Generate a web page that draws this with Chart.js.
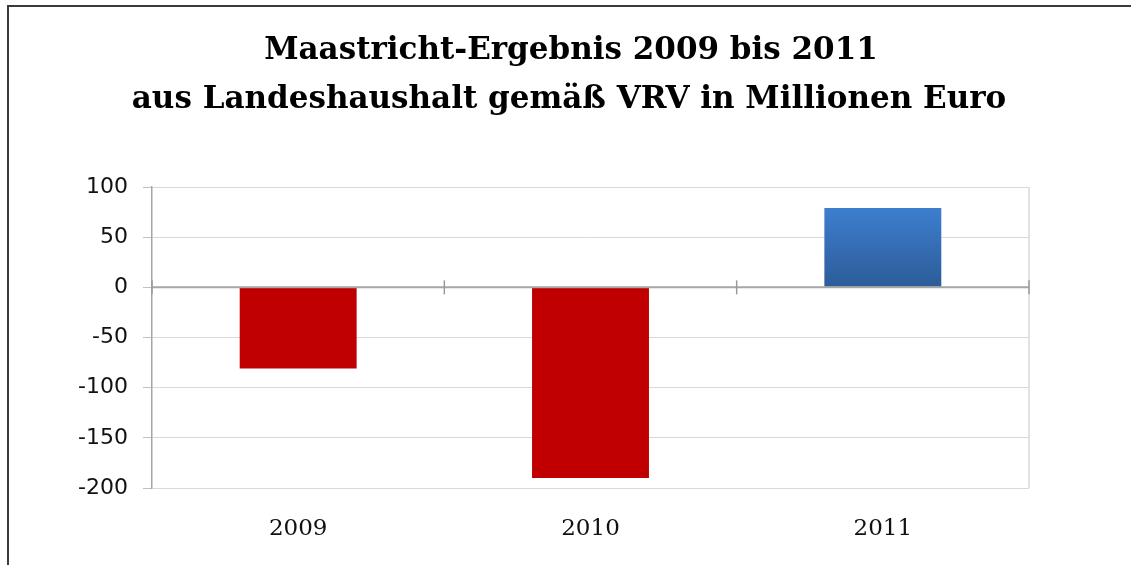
<!DOCTYPE html>
<html>
<head>
<meta charset="utf-8">
<script src="https://cdn.jsdelivr.net/npm/chart.js@4.4.1/dist/chart.umd.min.js"></script>
<style>
  html, body { margin: 0; padding: 0; background: #ffffff; }
  #wrap { position: relative; width: 1131px; height: 565px; }
  canvas { display: block; }
</style>
</head>
<body>
<div id="wrap"><canvas id="c" width="1131" height="565"></canvas></div>
<script>
const titleLines = ['Maastricht-Ergebnis 2009 bis 2011', 'aus Landeshaushalt gemäß VRV in Millionen Euro'];
const categories = ['2009', '2010', '2011'];
const values = [-81, -190, 79];
const yMin = -200;
const yMax = 100;
const yStep = 50;

const RED = '#C00000';

const framePlugin = {
  id: 'frame',
  beforeDraw(chart) {
    const ctx = chart.ctx;
    ctx.save();
    ctx.fillStyle = '#ffffff';
    ctx.fillRect(0, 0, chart.width, chart.height);
    ctx.strokeStyle = '#3a3a3a';
    ctx.lineWidth = 2;
    ctx.beginPath();
    ctx.moveTo(8, chart.height);
    ctx.lineTo(8, 6);
    ctx.lineTo(chart.width, 6);
    ctx.stroke();
    // title
    ctx.fillStyle = '#000000';
    ctx.font = 'bold 31px "DejaVu Serif", serif';
    ctx.textAlign = 'center';
    ctx.textBaseline = 'alphabetic';
    ctx.fillText(titleLines[0], 571, 59);
    ctx.fillText(titleLines[1], 569, 108);
    ctx.restore();
  },
  afterDatasetsDraw(chart) {
    const ctx = chart.ctx;
    const x = chart.scales.x, y = chart.scales.y;
    const a = chart.chartArea;
    ctx.save();
    ctx.strokeStyle = '#D9D9D9';
    ctx.lineWidth = 1.5;
    ctx.beginPath();
    ctx.moveTo(a.right, a.top);
    ctx.lineTo(a.right, a.bottom);
    ctx.stroke();
    const y0 = y.getPixelForValue(0);
    ctx.strokeStyle = '#A6A6A6';
    ctx.lineWidth = 2;
    ctx.beginPath();
    ctx.moveTo(a.left, y0);
    ctx.lineTo(a.right, y0);
    ctx.stroke();
    ctx.lineWidth = 1.5;
    ctx.strokeStyle = '#9a9a9a';
    for (let i = 0; i <= categories.length; i++) {
      const px = x.getPixelForValue(i - 0.5);
      ctx.beginPath();
      ctx.moveTo(px, y0 - 7);
      ctx.lineTo(px, y0 + 7);
      ctx.stroke();
    }
    ctx.restore();
  }
};

function barColor(context) {
  const v = context.raw;
  if (v < 0) return RED;
  const chart = context.chart;
  const ys = chart.scales && chart.scales.y;
  if (!ys || !chart.chartArea) return '#3A78C4';
  const top = ys.getPixelForValue(v);
  const bottom = ys.getPixelForValue(0);
  const g = chart.ctx.createLinearGradient(0, top, 0, bottom);
  g.addColorStop(0, '#3D7ECF');
  g.addColorStop(1, '#2C5C97');
  return g;
}

new Chart(document.getElementById('c'), {
  type: 'bar',
  data: {
    labels: categories,
    datasets: [{
      data: values,
      backgroundColor: barColor,
      borderWidth: 0,
      barPercentage: 0.4,
      categoryPercentage: 1.0
    }]
  },
  options: {
    responsive: false,
    animation: false,
    devicePixelRatio: 1,
    layout: { padding: { left: 0, right: 102, top: 187, bottom: 0 } },
    plugins: {
      legend: { display: false },
      tooltip: { enabled: false },
      title: { display: false }
    },
    scales: {
      x: {
        grid: { display: false, drawTicks: false },
        border: { display: false },
        ticks: {
          color: '#111111',
          padding: 27,
          font: { family: '"DejaVu Serif", serif', size: 23 }
        },
        afterFit(scale) { scale.height = 77; }
      },
      y: {
        min: yMin,
        max: yMax,
        ticks: {
          stepSize: yStep,
          color: '#111111',
          padding: 15,
          font: { family: '"DejaVu Sans", sans-serif', size: 22 }
        },
        grid: {
          color: '#D9D9D9',
          lineWidth: 1,
          tickLength: 9,
          tickColor: '#BFBFBF'
        },
        border: { display: true, color: '#A6A6A6', width: 1.5 },
        afterFit(scale) { scale.width = 152; }
      }
    }
  },
  plugins: [framePlugin]
});
</script>
</body>
</html>
